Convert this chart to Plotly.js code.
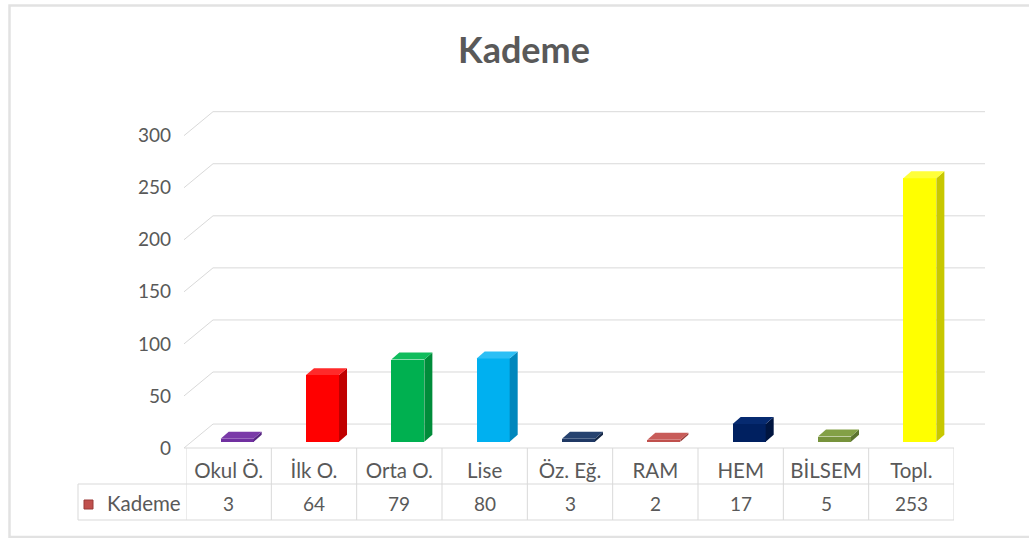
<!DOCTYPE html>
<html>
<head>
<meta charset="utf-8">
<script src="https://cdn.plot.ly/plotly-3.0.1.min.js"></script>
<style>html,body{margin:0;padding:0;background:#fff;}#chart{width:1029px;height:538px;}</style>
</head>
<body>
<div id="chart"></div>
<script>
// ---- data ----
var categories = ["Okul Ö.", "İlk O.", "Orta O.", "Lise", "Öz. Eğ.", "RAM", "HEM", "BİLSEM", "Topl."];
var values = [3, 64, 79, 80, 3, 2, 17, 5, 253];
var seriesName = "Kademe";
var yTicks = [0, 50, 100, 150, 200, 250, 300];

// ---- styles ----
var frontColors = ["#7030a0", "#ff0000", "#00b050", "#00b0f0", "#1f3864", "#c0504d", "#002060", "#77933c", "#ffff00"];
var sideColors  = ["#562480", "#c00000", "#008c3a", "#0087bd", "#142746", "#9a3b38", "#001540", "#5c7430", "#c8c800"];
var topColors   = ["#7a3aa8", "#ff2a2a", "#10bc5c", "#2cbff5", "#26426f", "#c85c59", "#062a70", "#83a046", "#ffff3a"];
var textColor = "#595959";
var gridColor = "#d9d9d9";
var FONT = "Lato, 'Open Sans', sans-serif";

// geometry in axis units (category width = 1, px/unit y ~1.041)
var FRONT_L = -0.094, FRONT_R = 0.293, DX = 0.094, DY = 6.7, BASE = 6, WALL = 23;

var traces = [];
var idx = categories.map(function (c, i) { return i; });
traces.push({
  type: "bar",
  x: idx.map(function (i) { return i + (FRONT_L + FRONT_R) / 2; }),
  y: values,
  base: BASE,
  width: FRONT_R - FRONT_L,
  marker: { color: frontColors, line: { width: 0 } },
  hoverinfo: "skip",
  showlegend: false
});
values.forEach(function (v, i) {
  var l = i + FRONT_L, r = i + FRONT_R, t = BASE + v;
  traces.push({
    type: "scatter", mode: "lines", line: { width: 0 }, fill: "toself",
    fillcolor: sideColors[i], hoverinfo: "skip", showlegend: false,
    x: [r, r + DX, r + DX, r, r],
    y: [BASE, BASE + DY, t + DY, t, BASE]
  });
  traces.push({
    type: "scatter", mode: "lines", line: { width: 0 }, fill: "toself",
    fillcolor: topColors[i], hoverinfo: "skip", showlegend: false,
    x: [l, r, r + DX, l + DX, l],
    y: [t, t, t + DY, t + DY, t]
  });
});

// plot area geometry (px) to convert table positions into paper coords
var W = 1029, H = 538, ML = 186, MR = 75, MB = 90, MT = 94;
var PW = W - ML - MR, PH = H - MT - MB;
function px(xp) { return (xp - ML) / PW; }
function py(yp) { return (H - MB - yp) / PH; }

var shapes = [];
// outer frame (open on the right)
shapes.push({ type: "rect", xref: "paper", yref: "paper", x0: px(9.5), x1: px(1080), y0: py(5.5), y1: py(537), line: { color: "#e2e2e2", width: 2.5 }, layer: "below" });
// back wall gridlines with slanted floor edge
yTicks.forEach(function (t) {
  shapes.push({
    type: "path", xref: "paper", yref: "y", layer: "below",
    path: "M " + px(184) + " " + t + " L " + px(213) + " " + (t + WALL) + " L " + px(985) + " " + (t + WALL),
    line: { color: gridColor, width: 1 }
  });
});
// floor front edge / table top
shapes.push({ type: "line", xref: "paper", yref: "paper", x0: px(184), x1: 1, y0: 0, y1: 0, line: { color: gridColor, width: 1 } });
// table lines
var rowSep = py(484), tableBottom = py(520), leftEdge = px(78);
shapes.push({ type: "line", xref: "paper", yref: "paper", x0: leftEdge, x1: 1, y0: rowSep, y1: rowSep, line: { color: gridColor, width: 1 } });
shapes.push({ type: "line", xref: "paper", yref: "paper", x0: leftEdge, x1: 1, y0: tableBottom, y1: tableBottom, line: { color: gridColor, width: 1 } });
shapes.push({ type: "line", xref: "paper", yref: "paper", x0: leftEdge, x1: leftEdge, y0: rowSep, y1: tableBottom, line: { color: gridColor, width: 1 } });
for (var j = 0; j <= categories.length; j++) {
  shapes.push({ type: "line", xref: "x", yref: "paper", x0: j - 0.5, x1: j - 0.5, y0: 0, y1: tableBottom, line: { color: gridColor, width: 1 } });
}
// legend key
shapes.push({ type: "rect", xref: "paper", yref: "paper", x0: px(84), x1: px(93), y0: py(500), y1: py(509), fillcolor: "#c0504d", line: { color: "#9a3b38", width: 1 } });

var annotations = [];
values.forEach(function (v, i) {
  annotations.push({ xref: "x", yref: "paper", x: i, y: py(503), text: String(v), showarrow: false, xanchor: "center", yanchor: "middle", font: { family: FONT, size: 19, color: textColor } });
});
annotations.push({ xref: "paper", yref: "paper", x: px(105), y: py(503), text: seriesName, showarrow: false, xanchor: "left", yanchor: "middle", font: { family: FONT, size: 20.5, color: textColor } });

var layout = {
  width: W, height: H,
  margin: { l: ML, r: MR, t: MT, b: MB, pad: 0 },
  paper_bgcolor: "#ffffff", plot_bgcolor: "rgba(0,0,0,0)",
  title: { text: "<b>" + seriesName + "</b>", x: 524 / W, xref: "container", y: 1 - 50 / H, yref: "container", xanchor: "center", yanchor: "middle", font: { family: FONT, size: 36, color: textColor } },
  xaxis: {
    range: [-0.5, categories.length - 0.5], tickmode: "array", tickvals: idx, ticktext: categories,
    showgrid: false, zeroline: false, showline: false, ticks: "", fixedrange: true,
    tickfont: { family: FONT, size: 20.5, color: textColor }, ticklabelstandoff: 8
  },
  yaxis: {
    range: [0, 340], tickmode: "array", tickvals: yTicks, ticktext: yTicks.map(String),
    showgrid: false, zeroline: false, showline: false, ticks: "", fixedrange: true,
    tickfont: { family: FONT, size: 19, color: textColor }, ticklabelstandoff: 14
  },
  shapes: shapes, annotations: annotations, showlegend: false, bargap: 0
};
Plotly.newPlot("chart", traces, layout, { staticPlot: true, displayModeBar: false });
</script>
</body>
</html>
